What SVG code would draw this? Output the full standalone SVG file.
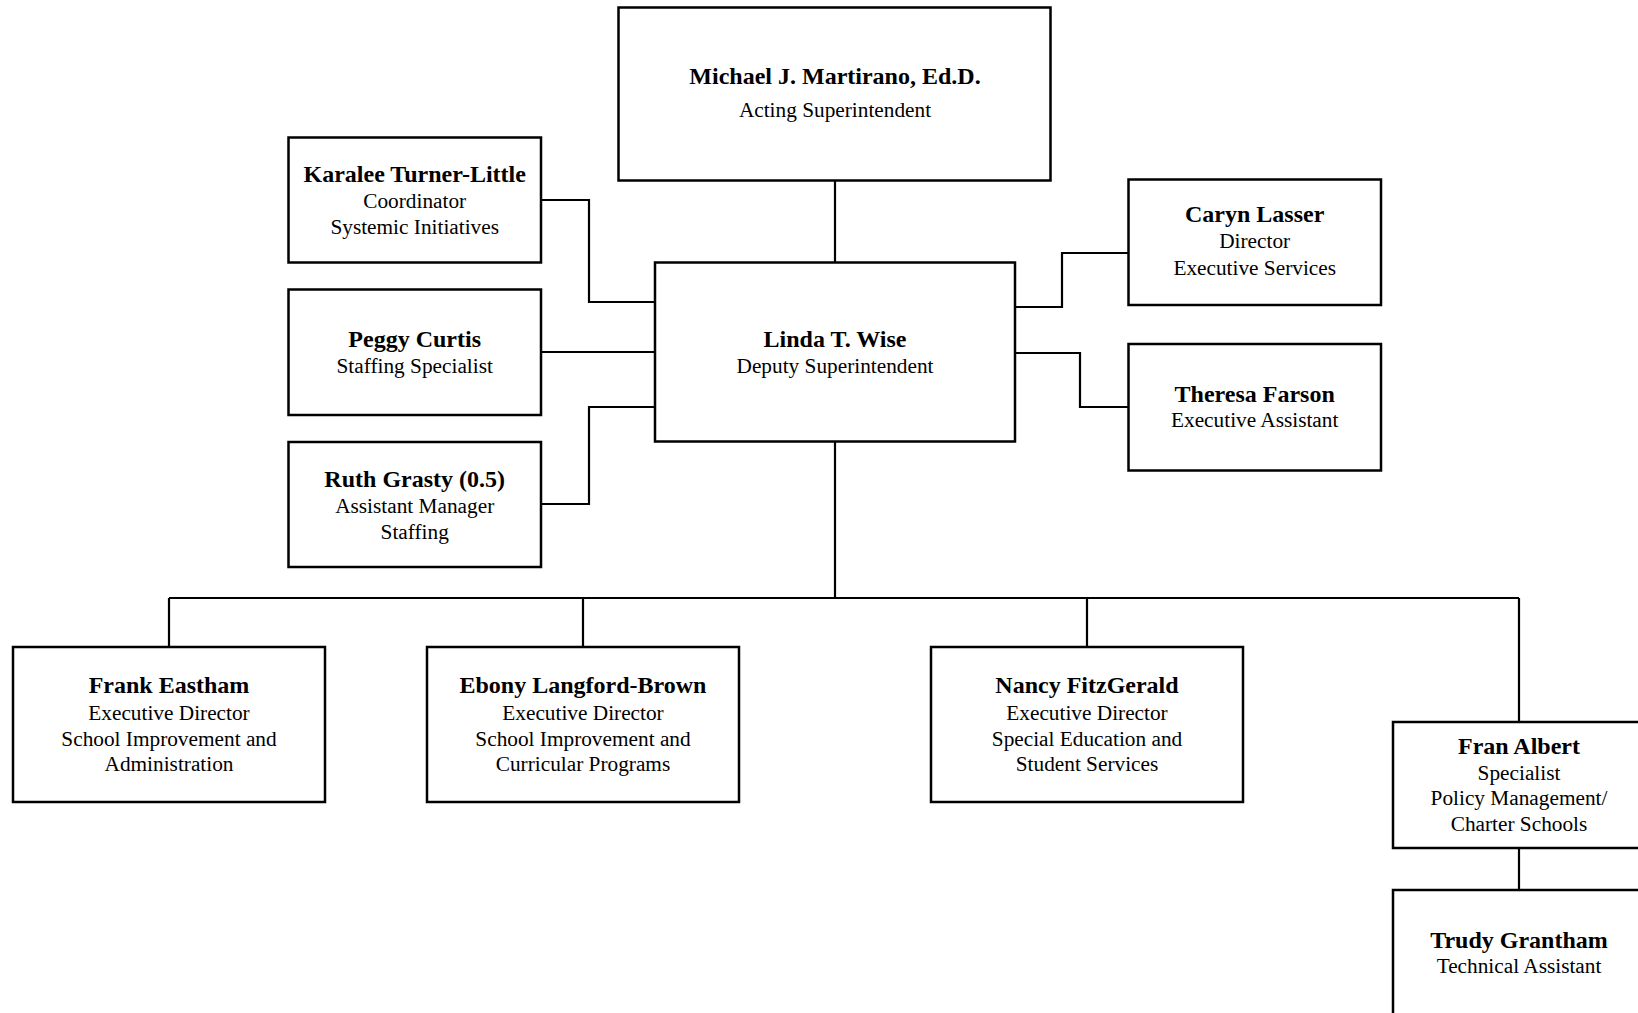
<svg xmlns="http://www.w3.org/2000/svg" width="1638" height="1013" viewBox="0 0 1638 1013">
<style>
.box{fill:#fff;stroke:#000;stroke-width:2.5}
.ln{fill:none;stroke:#000;stroke-width:2.2}
text{font-family:"Liberation Serif","Times New Roman",serif;text-anchor:middle;fill:#000}
.n{font-weight:bold;font-size:24px}
.t{font-size:21.3px}
</style>
<rect width="1638" height="1013" fill="#fff"/>
<g id="connectors">
<path class="ln" d="M835,181V262"/>
<path class="ln" d="M541,200H589V302H655"/>
<path class="ln" d="M541,352H655"/>
<path class="ln" d="M541,504H589V407H655"/>
<path class="ln" d="M1015,307H1062V253H1128"/>
<path class="ln" d="M1015,353H1080V407H1128"/>
<path class="ln" d="M835,442V598"/>
<path class="ln" d="M169,598H1519"/>
<path class="ln" d="M169,598V647M583,598V647M1087,598V647M1519,598V722"/>
<path class="ln" d="M1519,848V890"/>
</g>
<g id="martirano">
<rect class="box" x="618.5" y="7.5" width="432" height="173"/>
<text class="n" x="835" y="84">Michael J. Martirano, Ed.D.</text>
<text class="t" x="835" y="117">Acting Superintendent</text>
</g>
<g id="wise">
<rect class="box" x="655" y="262.5" width="360" height="179"/>
<text class="n" x="835" y="347">Linda T. Wise</text>
<text class="t" x="835" y="373">Deputy Superintendent</text>
</g>
<g id="turner-little">
<rect class="box" x="288.5" y="137.5" width="252.5" height="125"/>
<text class="n" x="414.7" y="182">Karalee Turner-Little</text>
<text class="t" x="414.7" y="208">Coordinator</text>
<text class="t" x="414.7" y="234">Systemic Initiatives</text>
</g>
<g id="curtis">
<rect class="box" x="288.5" y="289.5" width="252.5" height="125.5"/>
<text class="n" x="414.7" y="347">Peggy Curtis</text>
<text class="t" x="414.7" y="373">Staffing Specialist</text>
</g>
<g id="grasty">
<rect class="box" x="288.5" y="442" width="252.5" height="125"/>
<text class="n" x="414.7" y="487">Ruth Grasty (0.5)</text>
<text class="t" x="414.7" y="513">Assistant Manager</text>
<text class="t" x="414.7" y="539">Staffing</text>
</g>
<g id="lasser">
<rect class="box" x="1128.5" y="179.5" width="252.5" height="125.5"/>
<text class="n" x="1254.7" y="222">Caryn Lasser</text>
<text class="t" x="1254.7" y="248">Director</text>
<text class="t" x="1254.7" y="275">Executive Services</text>
</g>
<g id="farson">
<rect class="box" x="1128.5" y="344" width="252.5" height="126.5"/>
<text class="n" x="1254.7" y="402">Theresa Farson</text>
<text class="t" x="1254.7" y="427">Executive Assistant</text>
</g>
<g id="eastham">
<rect class="box" x="13" y="647" width="312" height="155"/>
<text class="n" x="169" y="693">Frank Eastham</text>
<text class="t" x="169" y="720">Executive Director</text>
<text class="t" x="169" y="746">School Improvement and</text>
<text class="t" x="169" y="771">Administration</text>
</g>
<g id="langford-brown">
<rect class="box" x="427" y="647" width="312" height="155"/>
<text class="n" x="583" y="693">Ebony Langford-Brown</text>
<text class="t" x="583" y="720">Executive Director</text>
<text class="t" x="583" y="746">School Improvement and</text>
<text class="t" x="583" y="771">Curricular Programs</text>
</g>
<g id="fitzgerald">
<rect class="box" x="931" y="647" width="312" height="155"/>
<text class="n" x="1087" y="693">Nancy FitzGerald</text>
<text class="t" x="1087" y="720">Executive Director</text>
<text class="t" x="1087" y="746">Special Education and</text>
<text class="t" x="1087" y="771">Student Services</text>
</g>
<g id="albert">
<rect class="box" x="1393" y="722" width="253" height="126"/>
<text class="n" x="1519" y="754">Fran Albert</text>
<text class="t" x="1519" y="780">Specialist</text>
<text class="t" x="1519" y="805">Policy Management/</text>
<text class="t" x="1519" y="831">Charter Schools</text>
</g>
<g id="grantham">
<rect class="box" x="1393" y="890" width="253" height="140"/>
<text class="n" x="1519" y="948">Trudy Grantham</text>
<text class="t" x="1519" y="973">Technical Assistant</text>
</g>
</svg>
